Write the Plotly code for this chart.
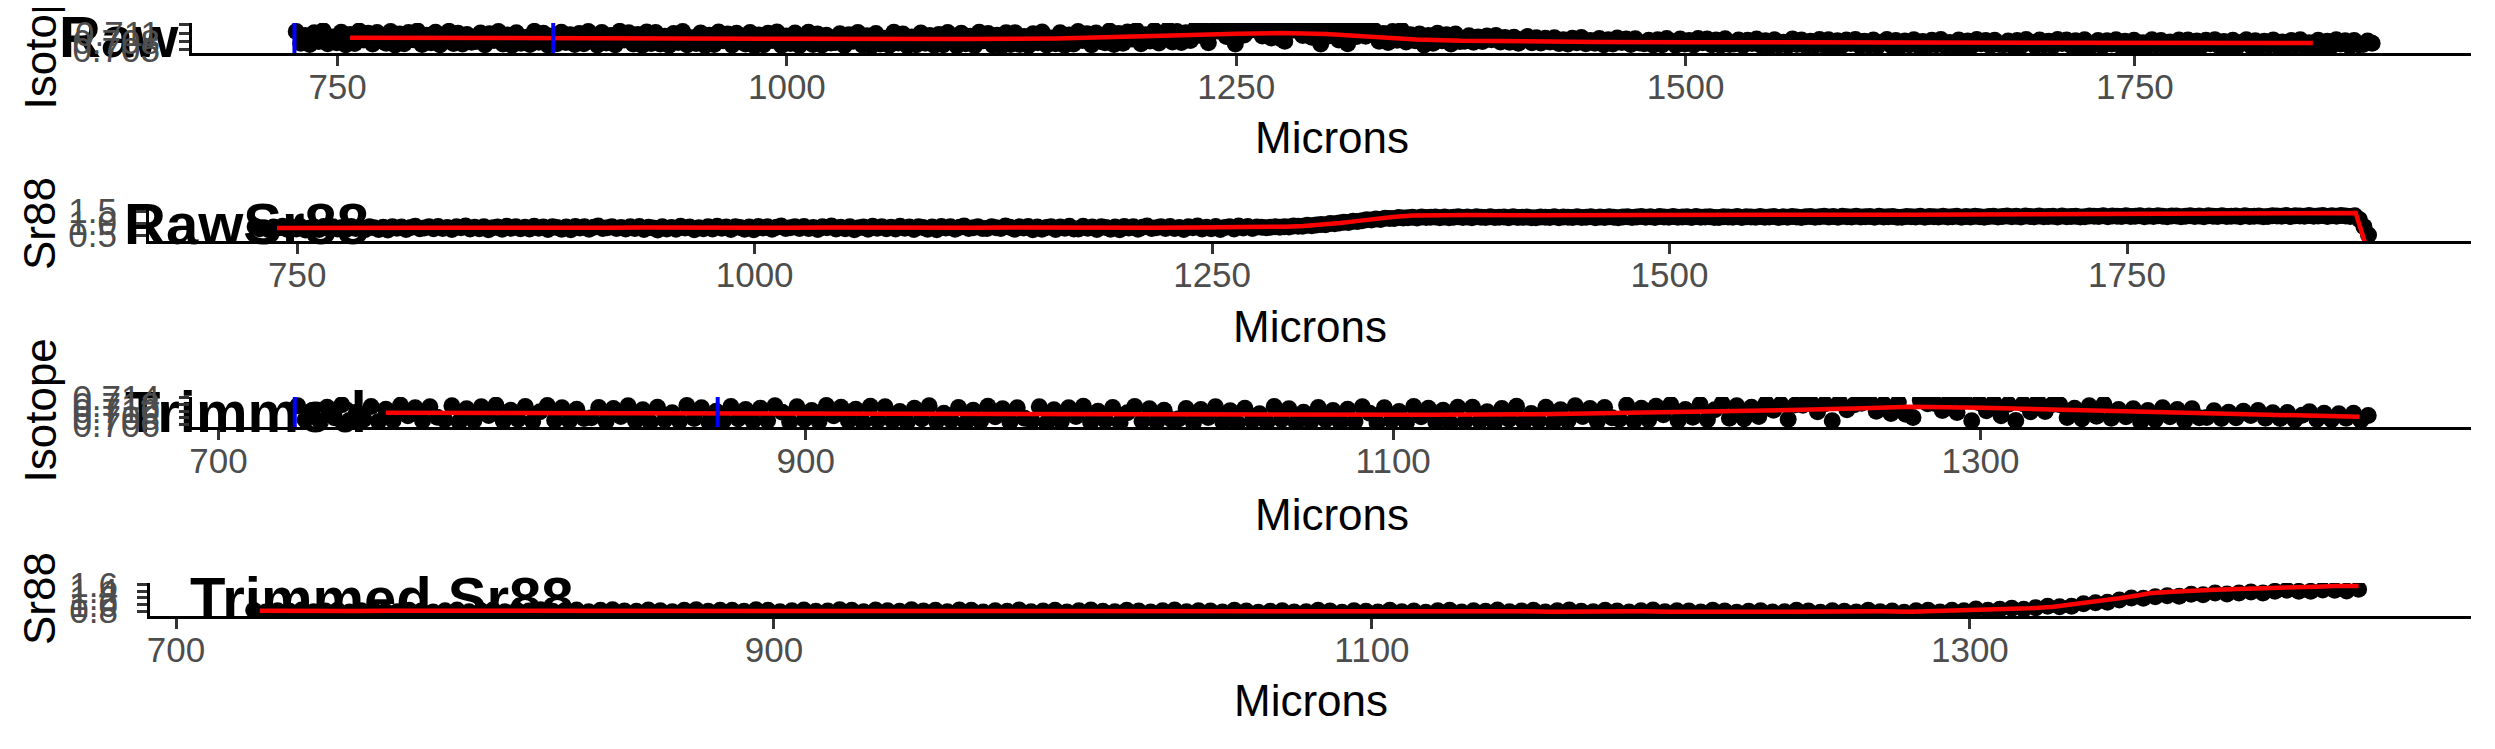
import plotly.graph_objects as go

FIG_W, FIG_H = 2495, 749
OFF = 8  # the page body margin that offsets the figure inside the window
FONT = "Liberation Sans, Arial, Helvetica, sans-serif"

# ---------------- data ----------------
# Raw laser transect: isotope ratio and Sr88 signal, one sample every 2.5 microns from 727 to 1882
raw_microns = [727 + 2.5 * i for i in range(463)]
raw_isotope = [
    0.7116, 0.7074, 0.7102, 0.7070, 0.7112, 0.7080, 0.7119, 0.7072, 0.7097, 0.7076, 0.7114, 0.7069, 0.7106, 0.7073, 0.7118, 0.7086, 0.7110, 0.7071, 0.7113, 0.7082,
    0.7074, 0.7116, 0.7068, 0.7107, 0.7072, 0.7113, 0.7087, 0.7118, 0.7070, 0.7103, 0.7076, 0.7114, 0.7069, 0.7098, 0.7117, 0.7073, 0.7110, 0.7071, 0.7106, 0.7078,
    0.7080, 0.7111, 0.7069, 0.7108, 0.7084, 0.7116, 0.7071, 0.7104, 0.7067, 0.7112, 0.7074, 0.7095, 0.7070, 0.7117, 0.7078, 0.7110, 0.7068, 0.7100, 0.7072, 0.7114,
    0.7077, 0.7105, 0.7070, 0.7109, 0.7072, 0.7116, 0.7097, 0.7068, 0.7113, 0.7075, 0.7102, 0.7069, 0.7117, 0.7086, 0.7112, 0.7071, 0.7106, 0.7067, 0.7115, 0.7073,
    0.7113, 0.7071, 0.7099, 0.7067, 0.7109, 0.7077, 0.7116, 0.7069, 0.7094, 0.7073, 0.7111, 0.7066, 0.7103, 0.7070, 0.7115, 0.7083, 0.7107, 0.7068, 0.7110, 0.7079,
    0.7071, 0.7113, 0.7065, 0.7104, 0.7069, 0.7110, 0.7084, 0.7115, 0.7067, 0.7100, 0.7073, 0.7111, 0.7066, 0.7095, 0.7114, 0.7070, 0.7107, 0.7068, 0.7103, 0.7075,
    0.7077, 0.7108, 0.7066, 0.7105, 0.7081, 0.7113, 0.7068, 0.7101, 0.7064, 0.7109, 0.7071, 0.7092, 0.7067, 0.7114, 0.7075, 0.7107, 0.7065, 0.7097, 0.7069, 0.7111,
    0.7074, 0.7102, 0.7067, 0.7106, 0.7069, 0.7113, 0.7094, 0.7065, 0.7110, 0.7072, 0.7099, 0.7066, 0.7114, 0.7083, 0.7109, 0.7068, 0.7103, 0.7064, 0.7112, 0.7070,
    0.7112, 0.7070, 0.7098, 0.7066, 0.7108, 0.7076, 0.7115, 0.7068, 0.7093, 0.7072, 0.7112, 0.7067, 0.7104, 0.7071, 0.7116, 0.7084, 0.7108, 0.7069, 0.7111, 0.7080,
    0.7076, 0.7118, 0.7070, 0.7109, 0.7074, 0.7115, 0.7089, 0.7120, 0.7072, 0.7105, 0.7082, 0.7120, 0.7075, 0.7104, 0.7123, 0.7079, 0.7116, 0.7077, 0.7112, 0.7084,
    0.7124, 0.7103, 0.7121, 0.7076, 0.7119, 0.7118, 0.7128, 0.7098, 0.7122, 0.7071, 0.7127, 0.7104, 0.7119, 0.7124, 0.7131, 0.7100, 0.7121, 0.7093, 0.7126, 0.7091,
    0.7081, 0.7133, 0.7122, 0.7123, 0.7102, 0.7136, 0.7096, 0.7131, 0.7071, 0.7125, 0.7101, 0.7126, 0.7086, 0.7121, 0.7072, 0.7122, 0.7098, 0.7129, 0.7099, 0.7120,
    0.7119, 0.7081, 0.7109, 0.7077, 0.7116, 0.7085, 0.7121, 0.7079, 0.7105, 0.7083, 0.7107, 0.7068, 0.7102, 0.7074, 0.7110, 0.7083, 0.7105, 0.7071, 0.7107, 0.7080,
    0.7081, 0.7101, 0.7078, 0.7097, 0.7080, 0.7100, 0.7087, 0.7102, 0.7079, 0.7095, 0.7078, 0.7096, 0.7074, 0.7088, 0.7098, 0.7076, 0.7094, 0.7075, 0.7092, 0.7079,
    0.7094, 0.7073, 0.7087, 0.7071, 0.7092, 0.7076, 0.7095, 0.7072, 0.7084, 0.7074, 0.7091, 0.7069, 0.7087, 0.7071, 0.7093, 0.7077, 0.7089, 0.7070, 0.7090, 0.7075,
    0.7072, 0.7085, 0.7068, 0.7087, 0.7069, 0.7091, 0.7081, 0.7067, 0.7089, 0.7071, 0.7084, 0.7068, 0.7091, 0.7076, 0.7089, 0.7069, 0.7086, 0.7067, 0.7090, 0.7070,
    0.7071, 0.7086, 0.7066, 0.7085, 0.7073, 0.7089, 0.7067, 0.7083, 0.7065, 0.7087, 0.7068, 0.7078, 0.7066, 0.7089, 0.7070, 0.7086, 0.7065, 0.7081, 0.7067, 0.7088,
    0.7067, 0.7087, 0.7064, 0.7083, 0.7066, 0.7086, 0.7073, 0.7088, 0.7065, 0.7081, 0.7068, 0.7086, 0.7064, 0.7078, 0.7088, 0.7066, 0.7084, 0.7065, 0.7082, 0.7069,
    0.7087, 0.7066, 0.7080, 0.7064, 0.7085, 0.7069, 0.7088, 0.7065, 0.7077, 0.7067, 0.7086, 0.7064, 0.7082, 0.7066, 0.7088, 0.7072, 0.7084, 0.7065, 0.7085, 0.7070,
    0.7069, 0.7082, 0.7065, 0.7084, 0.7066, 0.7088, 0.7078, 0.7064, 0.7086, 0.7068, 0.7081, 0.7065, 0.7088, 0.7073, 0.7086, 0.7066, 0.7083, 0.7064, 0.7087, 0.7067,
    0.7069, 0.7084, 0.7064, 0.7083, 0.7071, 0.7087, 0.7065, 0.7081, 0.7063, 0.7085, 0.7066, 0.7076, 0.7064, 0.7087, 0.7068, 0.7084, 0.7063, 0.7079, 0.7065, 0.7086,
    0.7066, 0.7086, 0.7063, 0.7082, 0.7065, 0.7085, 0.7072, 0.7087, 0.7064, 0.7080, 0.7067, 0.7085, 0.7063, 0.7077, 0.7087, 0.7065, 0.7083, 0.7064, 0.7081, 0.7068,
    0.7086, 0.7065, 0.7079, 0.7063, 0.7084, 0.7068, 0.7087, 0.7064, 0.7076, 0.7066, 0.7085, 0.7063, 0.7081, 0.7065, 0.7087, 0.7071, 0.7083, 0.7064, 0.7084, 0.7069,
    0.7070, 0.7082, 0.7074,
]
raw_sr88 = [
    0.85, 0.76, 0.80, 0.72, 0.83, 0.79, 0.87, 0.74, 0.81, 0.75, 0.84, 0.71, 0.79, 0.82, 0.73, 0.86, 0.77, 0.84, 0.75, 0.81,
    0.74, 0.86, 0.77, 0.82, 0.72, 0.84, 0.80, 0.73, 0.82, 0.71, 0.85, 0.78, 0.83, 0.73, 0.81, 0.87, 0.76, 0.79, 0.84, 0.76,
    0.86, 0.77, 0.81, 0.73, 0.84, 0.80, 0.88, 0.75, 0.82, 0.76, 0.85, 0.72, 0.80, 0.83, 0.74, 0.87, 0.78, 0.85, 0.76, 0.82,
    0.75, 0.87, 0.78, 0.83, 0.73, 0.85, 0.81, 0.74, 0.83, 0.72, 0.86, 0.79, 0.84, 0.74, 0.82, 0.88, 0.77, 0.80, 0.85, 0.77,
    0.81, 0.75, 0.84, 0.77, 0.86, 0.73, 0.82, 0.79, 0.71, 0.84, 0.75, 0.81, 0.74, 0.87, 0.79, 0.83, 0.72, 0.80, 0.76, 0.85,
    0.75, 0.87, 0.78, 0.83, 0.73, 0.85, 0.81, 0.74, 0.83, 0.72, 0.86, 0.79, 0.84, 0.74, 0.82, 0.88, 0.77, 0.80, 0.85, 0.77,
    0.86, 0.77, 0.81, 0.73, 0.84, 0.80, 0.88, 0.75, 0.82, 0.76, 0.85, 0.72, 0.80, 0.83, 0.74, 0.87, 0.78, 0.85, 0.76, 0.82,
    0.75, 0.87, 0.78, 0.83, 0.73, 0.85, 0.81, 0.74, 0.83, 0.72, 0.86, 0.79, 0.84, 0.74, 0.82, 0.88, 0.77, 0.80, 0.85, 0.77,
    0.77, 0.85, 0.80, 0.77, 0.88, 0.82, 0.74, 0.84, 0.79, 0.86, 0.72, 0.83, 0.74, 0.81, 0.85, 0.73, 0.83, 0.78, 0.87, 0.75,
    0.75, 0.87, 0.78, 0.83, 0.73, 0.85, 0.81, 0.74, 0.83, 0.72, 0.86, 0.79, 0.84, 0.74, 0.82, 0.88, 0.77, 0.80, 0.85, 0.77,
    0.86, 0.77, 0.81, 0.73, 0.84, 0.80, 0.88, 0.75, 0.82, 0.76, 0.86, 0.73, 0.81, 0.84, 0.75, 0.88, 0.79, 0.86, 0.77, 0.83,
    0.82, 0.80, 0.82, 0.85, 0.82, 0.85, 0.83, 0.88, 0.87, 0.87, 0.91, 0.89, 0.92, 0.94, 0.93, 0.98, 0.97, 1.00, 1.03, 1.02,
    1.07, 1.06, 1.10, 1.14, 1.13, 1.17, 1.15, 1.20, 1.19, 1.19, 1.23, 1.21, 1.22, 1.24, 1.21, 1.25, 1.23, 1.24, 1.25, 1.22,
    1.25, 1.22, 1.24, 1.26, 1.23, 1.25, 1.22, 1.26, 1.24, 1.23, 1.26, 1.23, 1.24, 1.25, 1.22, 1.26, 1.23, 1.24, 1.25, 1.22,
    1.22, 1.25, 1.24, 1.23, 1.26, 1.22, 1.25, 1.24, 1.23, 1.26, 1.23, 1.24, 1.26, 1.22, 1.25, 1.23, 1.26, 1.24, 1.22, 1.25,
    1.26, 1.23, 1.25, 1.27, 1.24, 1.26, 1.23, 1.27, 1.25, 1.24, 1.27, 1.24, 1.25, 1.26, 1.23, 1.27, 1.24, 1.25, 1.26, 1.23,
    1.23, 1.26, 1.25, 1.24, 1.27, 1.23, 1.26, 1.25, 1.24, 1.27, 1.24, 1.25, 1.27, 1.23, 1.26, 1.24, 1.27, 1.25, 1.23, 1.26,
    1.27, 1.24, 1.26, 1.28, 1.25, 1.27, 1.24, 1.28, 1.26, 1.25, 1.28, 1.25, 1.26, 1.27, 1.24, 1.28, 1.25, 1.26, 1.27, 1.24,
    1.24, 1.27, 1.26, 1.25, 1.28, 1.24, 1.27, 1.26, 1.25, 1.28, 1.25, 1.26, 1.28, 1.24, 1.27, 1.25, 1.28, 1.26, 1.24, 1.27,
    1.28, 1.25, 1.27, 1.29, 1.26, 1.28, 1.25, 1.29, 1.27, 1.26, 1.29, 1.26, 1.27, 1.28, 1.25, 1.29, 1.26, 1.27, 1.28, 1.25,
    1.26, 1.29, 1.28, 1.27, 1.30, 1.26, 1.29, 1.28, 1.27, 1.30, 1.27, 1.28, 1.30, 1.26, 1.29, 1.27, 1.30, 1.28, 1.26, 1.29,
    1.29, 1.26, 1.28, 1.30, 1.27, 1.29, 1.26, 1.30, 1.28, 1.27, 1.30, 1.27, 1.28, 1.29, 1.26, 1.30, 1.27, 1.28, 1.29, 1.26,
    1.27, 1.30, 1.29, 1.28, 1.31, 1.27, 1.30, 1.29, 1.28, 1.31, 1.28, 1.29, 1.31, 1.27, 1.30, 1.28, 1.31, 1.29, 1.27, 1.30,
    1.15, 0.85, 0.50,
]
raw_iso_smooth_microns = [757, 800, 850, 900, 950, 1000, 1050, 1100, 1150, 1175, 1200, 1225, 1250, 1275,
                          1300, 1325, 1350, 1375, 1400, 1450, 1500, 1550, 1600, 1650, 1700, 1750, 1800, 1849]
raw_iso_smooth = [0.7094, 0.7093, 0.7092, 0.7092, 0.7091, 0.7090, 0.7089, 0.7089, 0.7091, 0.7094, 0.7099,
                  0.7104, 0.7108, 0.7111, 0.7107, 0.7097, 0.7088, 0.7083, 0.7081, 0.7079, 0.7078, 0.7077,
                  0.7076, 0.7076, 0.7076, 0.7075, 0.7075, 0.7075]
raw_sr_smooth_microns = [739, 760, 780, 800, 820, 840, 860, 880, 900, 920,
                         940, 960, 980, 1000, 1020, 1040, 1060, 1080, 1100, 1120,
                         1140, 1160, 1180, 1200, 1220, 1240, 1260, 1280, 1290, 1300,
                         1310, 1320, 1330, 1340, 1350, 1360, 1370, 1390, 1420, 1450,
                         1480, 1510, 1540, 1571, 1600, 1630, 1660, 1690, 1720, 1750,
                         1780, 1810, 1840, 1860, 1875, 1880]
raw_sr_smooth = [0.79, 0.80, 0.79, 0.80, 0.79, 0.80, 0.80, 0.79, 0.80, 0.80,
                 0.81, 0.80, 0.80, 0.81, 0.80, 0.81, 0.80, 0.80, 0.81, 0.80,
                 0.81, 0.80, 0.80, 0.81, 0.80, 0.81, 0.81, 0.83, 0.85, 0.88,
                 0.93, 1.00, 1.09, 1.18, 1.26, 1.31, 1.33, 1.34, 1.33, 1.34,
                 1.34, 1.33, 1.34, 1.34, 1.35, 1.35, 1.36, 1.37, 1.38, 1.38,
                 1.39, 1.40, 1.41, 1.42, 1.42, 0.20]

# Trimmed transect: the isotope samples up to 1432 microns, plus its own Sr88 record
trim_end = 1432
trim_iso_microns = [m for m in raw_microns if m <= trim_end]
trim_isotope = raw_isotope[:len(trim_iso_microns)]
trim_iso_smooth_microns = [757, 800, 850, 900, 950, 1000, 1050, 1113, 1150, 1200, 1239, 1260, 1276,
                           1300, 1325, 1350, 1375, 1400, 1429]
trim_iso_smooth = [0.7095, 0.7094, 0.7092, 0.7091, 0.7090, 0.7089, 0.7089, 0.7089, 0.7091, 0.7097,
                   0.7104, 0.7109, 0.7113, 0.7110, 0.7105, 0.7099, 0.7094, 0.7089, 0.7083]

trim_sr_microns = [726 + 4 * i for i in range(177)]
trim_sr88 = [
    0.82, 0.77, 0.81, 0.79, 0.83, 0.78, 0.80, 0.82, 0.77, 0.81, 0.83, 0.79, 0.78, 0.82, 0.80, 0.77, 0.81, 0.83, 0.78, 0.81,
    0.83, 0.78, 0.82, 0.80, 0.84, 0.79, 0.81, 0.83, 0.78, 0.82, 0.84, 0.80, 0.79, 0.83, 0.81, 0.78, 0.82, 0.84, 0.79, 0.82,
    0.82, 0.79, 0.84, 0.82, 0.78, 0.81, 0.83, 0.79, 0.80, 0.84, 0.82, 0.78, 0.83, 0.81, 0.79, 0.84, 0.80, 0.82, 0.78, 0.83,
    0.82, 0.77, 0.81, 0.79, 0.83, 0.78, 0.80, 0.82, 0.77, 0.81, 0.83, 0.79, 0.78, 0.82, 0.80, 0.77, 0.81, 0.83, 0.78, 0.81,
    0.80, 0.77, 0.82, 0.80, 0.76, 0.79, 0.81, 0.77, 0.78, 0.82, 0.80, 0.76, 0.81, 0.79, 0.77, 0.82, 0.78, 0.80, 0.76, 0.81,
    0.82, 0.77, 0.81, 0.79, 0.83, 0.78, 0.80, 0.82, 0.77, 0.81, 0.83, 0.79, 0.78, 0.82, 0.80, 0.77, 0.81, 0.83, 0.78, 0.81,
    0.80, 0.77, 0.82, 0.80, 0.76, 0.79, 0.81, 0.77, 0.78, 0.82, 0.80, 0.76, 0.81, 0.79, 0.77, 0.82, 0.78, 0.80, 0.76, 0.81,
    0.82, 0.77, 0.82, 0.81, 0.86, 0.82, 0.85, 0.88, 0.85, 0.90, 0.94, 0.93, 0.94, 1.02, 1.05, 1.06, 1.13, 1.19, 1.18, 1.23,
    1.26, 1.24, 1.30, 1.29, 1.34, 1.31, 1.34, 1.37, 1.34, 1.39, 1.42, 1.39, 1.39, 1.43, 1.42, 1.40, 1.45,
]
trim_sr_smooth_microns = [728, 740, 750, 760, 770, 780, 790, 800, 810, 820, 830, 840, 850, 860, 870, 880,
                          890, 900, 910, 920, 930, 940, 950, 960, 970, 980, 990, 1000, 1010, 1020, 1030,
                          1040, 1050, 1060, 1070, 1080, 1090, 1100, 1110, 1120, 1130, 1140, 1150, 1160,
                          1170, 1180, 1190, 1200, 1210, 1220, 1230, 1240, 1250, 1260, 1270, 1280,
                          1290, 1295, 1300, 1306, 1313, 1320, 1328, 1335, 1342, 1350, 1357, 1360, 1366,
                          1372, 1380, 1387, 1395, 1402, 1409, 1416, 1422, 1427, 1430]
trim_sr_smooth = [0.81, 0.80, 0.81, 0.80, 0.81, 0.81, 0.80, 0.81, 0.82, 0.81, 0.81, 0.82, 0.81, 0.82, 0.81, 0.81,
                  0.80, 0.81, 0.80, 0.81, 0.80, 0.80, 0.81, 0.80, 0.80, 0.79, 0.80, 0.79, 0.80, 0.79, 0.80,
                  0.81, 0.80, 0.80, 0.81, 0.80, 0.79, 0.80, 0.79, 0.79, 0.80, 0.79, 0.79, 0.78,
                  0.79, 0.78, 0.79, 0.78, 0.79, 0.78, 0.78, 0.78, 0.79, 0.78, 0.79, 0.78,
                  0.80, 0.81, 0.82, 0.83, 0.85, 0.88, 0.93, 1.00, 1.08, 1.18, 1.28, 1.33, 1.37,
                  1.41, 1.43, 1.45, 1.48, 1.51, 1.52, 1.53, 1.55, 1.56, 1.55]

cut_microns = [726, 870]   # blue vertical markers

panel_titles = ["Raw", "RawSr88", "Trimmed", "Trimmed Sr88"]
y_titles = ["Isotope", "Sr88", "Isotope", "Sr88"]
x_title = "Microns"
raw_xticks = [750, 1000, 1250, 1500, 1750]
trim_xticks = [700, 900, 1100, 1300]
iso_raw_yticks = [0.705, 0.708, 0.711, 0.714]
sr_raw_yticks = [0.5, 1.0, 1.5]
iso_trim_yticks = [0.706, 0.708, 0.710, 0.712, 0.714]
sr_trim_yticks = [0.8, 1.0, 1.2, 1.4, 1.6]


# ---------------- layout helpers (window pixels -> paper) ----------------
def fx(px):
    return (px - OFF) / FIG_W


def fy(py):
    return 1 - (py - OFF) / FIG_H


panels = [
    dict(box=(192, 23, 2471, 53), xr=[669, 1937], yr=[0.7039, 0.7147], xt=raw_xticks,
         yt=iso_raw_yticks, yfmt="{:.3f}", x=raw_microns, y=raw_isotope,
         sx=raw_iso_smooth_microns, sy=raw_iso_smooth, cuts=True, title_pos=(59, 42.5),
         ytitle_pos=(39.5, 38), xtitle_y=138),
    dict(box=(149, 207, 2471, 241), xr=[669, 1938], yr=[0.25, 1.67], xt=raw_xticks,
         yt=sr_raw_yticks, yfmt="{:.1f}", x=raw_microns, y=raw_sr88,
         sx=raw_sr_smooth_microns, sy=raw_sr_smooth, cuts=False, title_pos=(124, 229),
         ytitle_pos=(39.5, 223.5), xtitle_y=326),
    dict(box=(192, 397, 2471, 427), xr=[691, 1467], yr=[0.70525, 0.71425], xt=trim_xticks,
         yt=iso_trim_yticks, yfmt="{:.3f}", x=trim_iso_microns, y=trim_isotope,
         sx=trim_iso_smooth_microns, sy=trim_iso_smooth, cuts=True, title_pos=(125, 417),
         ytitle_pos=(39.5, 411), xtitle_y=514),
    dict(box=(150, 583, 2471, 616), xr=[691.3, 1467.6], yr=[0.65, 1.64], xt=trim_xticks,
         yt=sr_trim_yticks, yfmt="{:.1f}", x=trim_sr_microns, y=trim_sr88,
         sx=trim_sr_smooth_microns, sy=trim_sr_smooth, cuts=False, title_pos=(190, 603),
         ytitle_pos=(39.5, 598.5), xtitle_y=700),
]

fig = go.Figure()

# overlay subplot (drawn first, i.e. underneath the panels) holding the big panel titles
fig.add_trace(go.Scatter(
    x=[p["title_pos"][0] for p in panels],
    y=[p["title_pos"][1] for p in panels],
    text=["<b>%s</b>" % t for t in panel_titles],
    mode="text", textposition="middle right",
    textfont=dict(family=FONT, size=58, color="black"),
    hoverinfo="skip", showlegend=False, xaxis="x", yaxis="y", cliponaxis=False,
))

layout = dict(
    template="none",
    width=FIG_W, height=FIG_H,
    margin=dict(l=0, r=0, t=0, b=0, pad=0, autoexpand=False),
    paper_bgcolor="white", plot_bgcolor="rgba(0,0,0,0)",
    showlegend=False,
    xaxis=dict(domain=[0, 1], range=[OFF, FIG_W + OFF], visible=False, fixedrange=True),
    yaxis=dict(domain=[0, 1], range=[FIG_H + OFF, OFF], visible=False, fixedrange=True),
)

shapes = []
annotations = []
for k, p in enumerate(panels, start=2):
    L, T, R, B = p["box"]
    xname, yname = "x%d" % k, "y%d" % k
    fig.add_trace(go.Scatter(
        x=p["x"], y=p["y"], mode="markers",
        marker=dict(size=17, color="black", line=dict(width=0)),
        hoverinfo="skip", showlegend=False, xaxis=xname, yaxis=yname,
    ))
    fig.add_trace(go.Scatter(
        x=p["sx"], y=p["sy"], mode="lines",
        line=dict(color="#FF0000", width=4.5),
        hoverinfo="skip", showlegend=False, xaxis=xname, yaxis=yname,
    ))
    common = dict(
        showline=True, linecolor="black", linewidth=3,
        ticks="outside", ticklen=10, tickwidth=3, tickcolor="#333333",
        tickfont=dict(family=FONT, size=35, color="#4D4D4D"),
        showgrid=False, zeroline=False, fixedrange=True, automargin=False,
    )
    layout["xaxis%d" % k] = dict(
        domain=[fx(L), fx(R)], range=p["xr"], anchor=yname,
        tickmode="array", tickvals=p["xt"], ticktext=[str(v) for v in p["xt"]],
        ticklabelstandoff=-9, **common,
    )
    layout["yaxis%d" % k] = dict(
        domain=[fy(B), fy(T)], range=p["yr"], anchor=xname,
        tickmode="array", tickvals=p["yt"], ticktext=[p["yfmt"].format(v) for v in p["yt"]],
        ticklabelstandoff=12, **common,
    )
    if p["cuts"]:
        for c in cut_microns:
            shapes.append(dict(type="line", xref=xname, yref="%s domain" % yname,
                               x0=c, x1=c, y0=0, y1=1, layer="above",
                               line=dict(color="#0000FF", width=4)))
    annotations.append(dict(
        text=x_title, xref="paper", yref="paper",
        x=fx((L + R) / 2), y=fy(p["xtitle_y"]), xanchor="center", yanchor="middle",
        showarrow=False, font=dict(family=FONT, size=44, color="black"),
    ))
    annotations.append(dict(
        text=y_titles[k - 2], xref="paper", yref="paper", textangle=-90,
        x=fx(p["ytitle_pos"][0]), y=fy(p["ytitle_pos"][1]), xanchor="center", yanchor="middle",
        showarrow=False, font=dict(family=FONT, size=44, color="black"),
    ))

layout["shapes"] = shapes
layout["annotations"] = annotations
fig.update_layout(**layout)

fig.write_html("out.html")
